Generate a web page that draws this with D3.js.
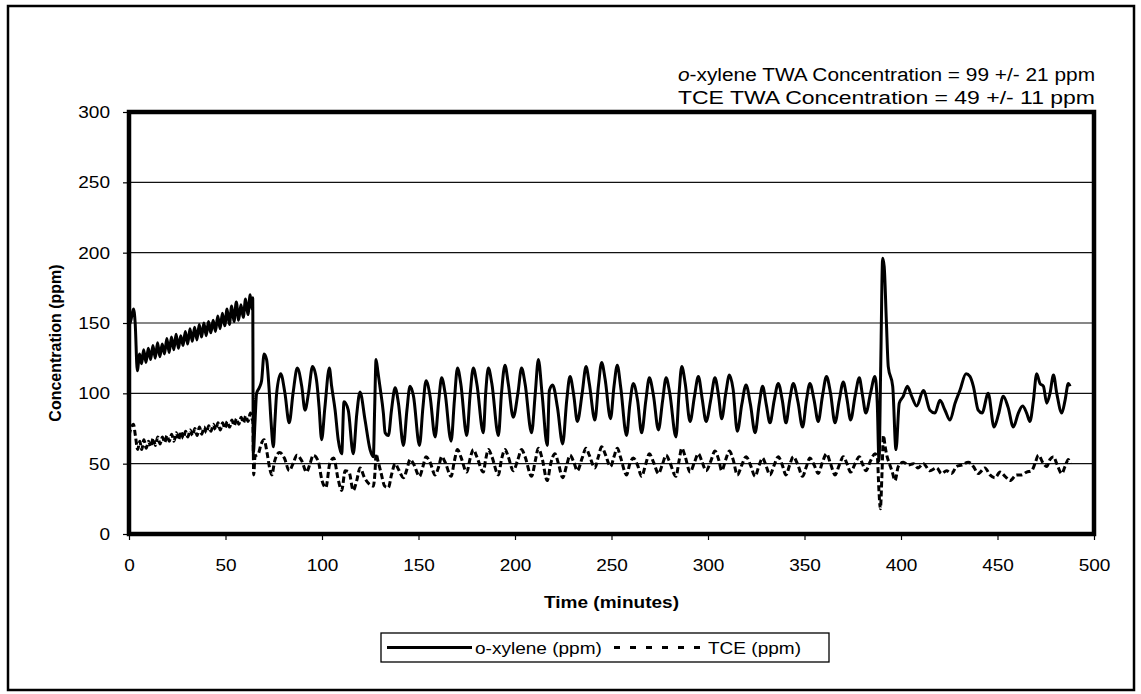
<!DOCTYPE html>
<html>
<head>
<meta charset="utf-8">
<script src="https://cdn.jsdelivr.net/npm/d3@7"></script>
<style>
  body { margin: 0; background: #fff; }
  svg { display: block; font-family: "Liberation Sans", Arial, sans-serif; }
</style>
</head>
<body>
<svg id="chart" width="1141" height="694"></svg>
<script>
// o-xylene readings (minutes, ppm)
const xyleneTime = [0,1,2.3,3.2,4.3,5.5,6.5,7.6,8.8,10,11.2,12.4,13.6,14.8,16,17.2,18.4,19.6,20.8,22,23.2,24.4,25.6,26.8,28,29.2,30.4,31.6,32.8,34,35.2,36.4,37.6,38.8,40,41.2,42.4,43.6,44.8,46,47.2,48.4,49.6,50.8,52,53.2,54.4,55.6,56.8,58,59.2,60.4,61.6,62.8,63.6,64.1,
  64.4,65.3,66.1,67.5,68.7,70,71.3,72.5,73.6,74.8,75.6,76.5,78.6,80.8,83,85,87.2,89.5,91.2,93,95.1,97.2,98.5,99.8,101.5,103.8,105,106.8,108.4,110.2,111.4,113.6,116.2,118,119.7,122.3,124.9,126.6,127.3,128,129,130,131.8,132.7,134.4,
  136,137.9,139.6,142.2,144,145.6,147.4,150.5,152.3,153.9,156,158.6,160.5,162,163.8,166.9,168.6,170.2,171.9,175,176.8,178.4,180.2,183.6,184.8,186.2,188,191.4,193,194.8,196.5,199.1,201.5,203.4,205.2,208.6,210.5,212.1,214,216.7,217.8,219.5,222,224.7,226.8,228.5,230.5,232.3,234.8,236.8,238.5,241.4,243.2,244.9,246.7,249.5,251.3,253,254.8,257.8,259.5,261.3,263.5,265.6,267.8,269.6,271.8,274.3,276.5,278.3,280.2,283.4,285,286.4,288.2,290.7,293,295,297,299,301.5,303.6,305.5,307.1,309.2,311.1,313,315.2,317.5,319.7,322,324.4,326.5,328.3,330.2,332.1,334.3,336.4,338.5,340.4,342.3,344.2,346.6,349,351,352.8,355,357.1,359.3,361.4,363.5,365.8,368,370.1,372,373.9,376.2,378.4,380,381.8,384.2,386.5,387.7,388.6,389.5,390.5,391.3,392.4,393.4,395.7,397.4,399.1,401.2,403.3,405.5,408.1,411.6,415,417.6,420.2,422.8,425.4,428,430.5,433.7,435.7,437.5,440,442,445.2,448.2,450.5,453,455.5,458.2,460.8,463,465.1,466.8,468.6,470.3,472,473.8,475.5,477.2,479,480.7,483.3,485,486.7,487.6];
const xyleneConc = [148,152,160,150,116,128,121,131,122,132,124,134,125,136,126,135,128,139,129,140,131,142,132,141,134,144,135,146,137,147,138,149,140,150,141,151,143,152,144,155,146,157,148,160,149,162,151,165,152,163,154,167,156,170,160,168,
  57,80,100,104,109,128,124,105,80,62,80,100,114,100,79,100,118,105,88,100,119,109,90,67,90,118,105,88,67,57,94,88,57,85,101,81,60,55,90,124,115,105,86,72,70,
  88,104,93,63,88,105,98,63,90,109,98,69,95,111,100,66,95,118,107,70,100,118,107,72,100,118,107,70,100,120,107,83,100,118,107,72,100,124,100,63,102,106,90,64,95,112,98,80,100,119,107,81,105,122,110,82,105,120,104,70,92,107,95,72,95,111,98,74,95,111,100,69,100,119,107,80,98,112,96,80,96,111,98,82,100,113,103,73,92,106,92,72,92,105,92,79,95,107,95,79,95,107,94,76,95,107,95,80,98,112,100,79,95,108,96,81,98,111,99,86,100,112,93,52,120,196,190,152,119,105,60,93,98,105,98,91,102,88,86,95,88,81,93,102,114,112,105,88,86,100,76,85,98,90,76,86,91,86,80,95,114,107,105,93,100,113,100,86,95,107,105];

// TCE readings (minutes, ppm)
const tceTime = [0,1,2.3,3.3,4.5,5.6,6.6,7.7,8.9,10.1,11.3,12.5,13.7,14.9,16.1,17.3,18.5,19.7,20.9,22.1,23.3,24.5,25.7,26.9,28.1,29.3,30.5,31.7,32.9,34.1,35.3,36.5,37.7,38.9,40.1,41.3,42.5,43.7,44.9,46.1,47.3,48.5,49.7,50.9,52.1,53.3,54.5,55.7,56.9,58.1,59.3,60.5,61.7,62.9,63.7,
  64.2,64.6,65.3,67,68.5,70,71.5,73,74,75.5,78,80.5,83,85,87,89.5,92,93.8,95.5,98,100,102,104,106,108.5,110.2,112,114,116.2,118,119.7,122,124.9,126.6,127.5,128,129,130.5,132.5,134.4,
  136,137.9,139.6,142.2,144,145.6,147.4,150.5,152.3,153.9,156,158.6,160.5,162,163.8,166.9,168.6,170.2,171.9,175,176.8,178.4,180.2,183.6,184.8,186.2,188,191.4,193,194.8,196.5,199.1,201.5,203.4,205.2,208.6,210.5,212.1,214,216.7,218.5,220.7,222.5,224.7,226.8,228.5,230.5,232.3,234.8,236.8,238.5,241.4,243.2,244.9,246.7,249.5,251.3,253,254.8,257.8,259.5,261.3,263.5,265.6,267.8,269.6,271.8,274.3,276.5,278.3,280.2,283.4,285,286.4,288.2,290.7,293,295,297,299,301.5,303.6,305.5,307.1,309.2,311.1,313,315.2,317.5,319.7,322,324.4,326.5,328.3,330.2,332.1,334.3,336.4,338.5,340.4,342.3,344.2,346.6,349,351,352.8,355,357.1,359.3,361.4,363.5,365.8,368,370.1,372,373.9,376.2,378.4,380,381.8,384.2,386.5,387.7,388.6,389.3,390.2,390.9,391.8,392.8,394,395.5,396.9,398.6,401.2,403.8,406.4,408.8,411.6,415,418.5,421,423.6,426.2,428.8,431.4,434.9,437.5,440,443.5,446.1,448.7,451.3,453.9,456.5,459.9,462.5,465.1,467.7,469.4,471.2,473.8,475.5,477.2,479,480.7,483.3,485,486.7,487.6];
const tceConc = [70,75,78,70,60,66,60,67,61,66,62,68,63,69,64,69,65,70,66,71,66,72,67,73,68,73,69,74,70,75,70,76,71,76,72,77,73,78,74,79,74,79,75,80,76,81,77,82,78,83,79,84,80,86,82,
  80,42,55,57,64,67,58,46,42,52,58,54,45,50,56,52,44,50,56,52,38,33,50,54,38,31,45,44,31,38,47,40,35,34,45,57,52,44,34,33,
  42,50,46,40,46,53,50,41,48,55,51,42,48,55,51,41,52,60,55,44,54,60,55,44,53,60,55,42,53,60,55,45,53,60,55,41,52,61,54,38,50,57,50,40,49,56,51,45,54,61,56,47,55,62,57,48,55,61,54,42,50,54,49,41,50,57,51,43,50,56,51,41,52,61,55,44,51,57,51,45,52,59,53,45,53,59,53,42,49,55,49,41,49,54,48,42,49,55,49,42,49,55,49,41,48,54,49,43,51,57,50,42,49,55,50,44,50,55,50,45,52,57,55,30,18,45,70,62,55,50,44,38,48,51,49,50,47,50,45,47,43,45,43,48,49,51,48,43,47,42,40,44,41,38,42,42,44,45,50,56,50,48,53,55,50,43,48,53,50];

const yTicks = [0, 50, 100, 150, 200, 250, 300];
const xTicks = [0, 50, 100, 150, 200, 250, 300, 350, 400, 450, 500];

const SX = 1.12; // scanned text looks horizontally stretched
const FONT = "'Liberation Sans', Arial, sans-serif";

const svg = d3.select("#chart");
const plot = { left: 129, right: 1094, top: 112, bottom: 534 };

let x = d3.scaleLinear().domain([0, 500]).range([plot.left, plot.right]);
let y = d3.scaleLinear().domain([0, 300]).range([plot.bottom, plot.top]);

// outer frame
svg.append("rect")
    .attr("x", 8).attr("y", 6)
    .attr("width", 1126).attr("height", 684)
    .attr("fill", "none").attr("stroke", "#000").attr("stroke-width", 2.5);

// gridlines
svg.append("g")
    .selectAll("line")
    .data(yTicks.filter(d => d > 0 && d < 300))
    .enter().append("line")
    .attr("x1", plot.left).attr("x2", plot.right)
    .attr("y1", d => y(d)).attr("y2", d => y(d))
    .attr("stroke", "#111").attr("stroke-width", 1.2);

// axes
let yAxis = svg.append("g")
    .attr("transform", `translate(${plot.left},0)`)
    .call(d3.axisLeft(y).tickValues(yTicks).tickSize(6).tickSizeOuter(0));
yAxis.select(".domain").remove();
yAxis.selectAll("line").attr("stroke-width", 1.2);
yAxis.selectAll("text")
    .attr("x", -19 / SX)
    .attr("transform", `scale(${SX},1)`)
    .attr("font-size", 17).attr("fill", "#000")
    .style("font-family", FONT);

let xAxis = svg.append("g")
    .attr("transform", `translate(0,${plot.bottom})`)
    .call(d3.axisBottom(x).tickValues(xTicks).tickSize(6).tickSizeOuter(0));
xAxis.select(".domain").remove();
xAxis.selectAll("line").attr("stroke-width", 1.2);
xAxis.selectAll("text")
    .attr("y", 37).attr("dy", 0).attr("x", 0)
    .attr("transform", `scale(${SX},1)`)
    .attr("font-size", 17).attr("fill", "#000")
    .style("font-family", FONT);

// series lines
let line = d3.line()
    .x(d => x(d[0]))
    .y(d => y(d[1]))
    .curve(d3.curveMonotoneX);
let xyleneData = xyleneTime.map((t, i) => [t, xyleneConc[i]]);
let tceData = tceTime.map((t, i) => [t, tceConc[i]]);

svg.append("path")
    .datum(tceData)
    .attr("d", line)
    .attr("fill", "none").attr("stroke", "#000")
    .attr("stroke-width", 3)
    .attr("stroke-dasharray", "6,3")
    .attr("stroke-linejoin", "round");

svg.append("path")
    .datum(xyleneData)
    .attr("d", line)
    .attr("fill", "none").attr("stroke", "#000")
    .attr("stroke-width", 3)
    .attr("stroke-linejoin", "round");

// plot area border
svg.append("rect")
    .attr("x", plot.left).attr("y", plot.top)
    .attr("width", plot.right - plot.left).attr("height", plot.bottom - plot.top)
    .attr("fill", "none").attr("stroke", "#000").attr("stroke-width", 4.5);

// axis titles
svg.append("text")
    .attr("transform", `translate(${(plot.left + plot.right) / 2},608) scale(${SX},1)`)
    .attr("text-anchor", "middle")
    .attr("font-size", 17).attr("font-weight", "bold")
    .text("Time (minutes)");

svg.append("text")
    .attr("transform", `translate(61,${(plot.top + plot.bottom) / 2 + 20}) rotate(-90)`)
    .attr("text-anchor", "middle")
    .attr("font-size", 16).attr("font-weight", "bold")
    .text("Concentration (ppm)");

// TWA notes
let note1 = svg.append("text")
    .attr("x", 678).attr("y", 81)
    .attr("font-size", 18)
    .attr("textLength", 417).attr("lengthAdjust", "spacingAndGlyphs");
note1.append("tspan").attr("font-style", "italic").text("o");
note1.append("tspan").text("-xylene TWA Concentration = 99 +/- 21 ppm");

svg.append("text")
    .attr("x", 678).attr("y", 104)
    .attr("font-size", 18)
    .attr("textLength", 417).attr("lengthAdjust", "spacingAndGlyphs")
    .text("TCE TWA Concentration = 49 +/- 11 ppm");

// legend
let legend = svg.append("g");
legend.append("rect")
    .attr("x", 381).attr("y", 633).attr("width", 448).attr("height", 29)
    .attr("fill", "#fff").attr("stroke", "#000").attr("stroke-width", 1.3);
legend.append("line")
    .attr("x1", 387).attr("x2", 472).attr("y1", 647.5).attr("y2", 647.5)
    .attr("stroke", "#000").attr("stroke-width", 3);
legend.append("text")
    .attr("transform", `translate(475,654) scale(${SX},1)`)
    .attr("font-size", 17)
    .text("o-xylene (ppm)");
legend.append("line")
    .attr("x1", 614).attr("x2", 706).attr("y1", 647.5).attr("y2", 647.5)
    .attr("stroke", "#000").attr("stroke-width", 3)
    .attr("stroke-dasharray", "6,10");
legend.append("text")
    .attr("transform", `translate(708,654) scale(${SX},1)`)
    .attr("font-size", 17)
    .text("TCE (ppm)");
</script>
</body>
</html>
